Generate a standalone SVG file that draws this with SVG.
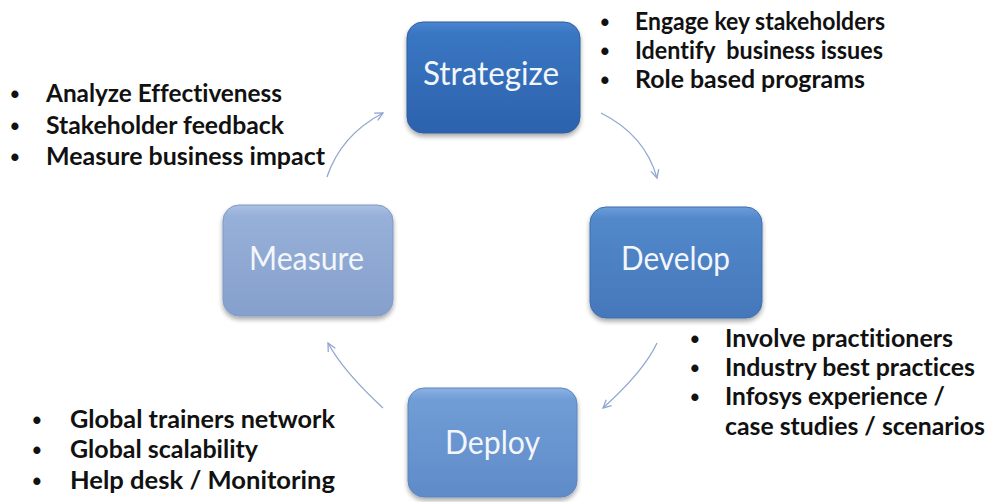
<svg xmlns="http://www.w3.org/2000/svg" width="992" height="502" viewBox="0 0 992 502">
<style>
text{font-variant-ligatures:none;}
.lbl{font-family:Lato,"Open Sans",sans-serif;font-size:32px;fill:#f3f6fb;text-anchor:middle;}
.bt{font-family:Lato,"Open Sans",sans-serif;font-weight:bold;font-size:24px;fill:#111;}
.bl{font-family:"Liberation Sans",Arial,sans-serif;font-weight:bold;font-size:25px;fill:#111;text-anchor:middle;}
.con{fill:none;stroke:#92a6d0;stroke-width:1.3;}
</style>
<defs>
<linearGradient id="gS" x1="0" y1="0" x2="0" y2="1"><stop offset="0" stop-color="#4a86cf"/><stop offset="0.1" stop-color="#3a76c2"/><stop offset="1" stop-color="#2c62ad"/></linearGradient>
<linearGradient id="gDv" x1="0" y1="0" x2="0" y2="1"><stop offset="0" stop-color="#6c9dd8"/><stop offset="0.1" stop-color="#5289cb"/><stop offset="1" stop-color="#4577bb"/></linearGradient>
<linearGradient id="gM" x1="0" y1="0" x2="0" y2="1"><stop offset="0" stop-color="#abc0e2"/><stop offset="0.1" stop-color="#97b0d9"/><stop offset="1" stop-color="#85a0cc"/></linearGradient>
<linearGradient id="gDp" x1="0" y1="0" x2="0" y2="1"><stop offset="0" stop-color="#8cb2e3"/><stop offset="0.1" stop-color="#719dd6"/><stop offset="1" stop-color="#5f8bc8"/></linearGradient>
<filter id="sh" x="-10%" y="-10%" width="120%" height="130%"><feGaussianBlur in="SourceAlpha" stdDeviation="2.5"/><feOffset dy="3"/><feComponentTransfer><feFuncA type="linear" slope="0.35"/></feComponentTransfer><feMerge><feMergeNode/><feMergeNode in="SourceGraphic"/></feMerge></filter>
<marker id="ah" markerWidth="12" markerHeight="12" refX="9" refY="5" orient="auto" markerUnits="userSpaceOnUse"><path d="M1,1 L9,5 L1,9" fill="none" stroke="#92a6d0" stroke-width="1.3"/></marker>
</defs>
<rect width="992" height="502" fill="#ffffff"/>

<g id="strategize">
<rect x="407" y="22" width="173" height="111" rx="16" fill="url(#gS)" stroke="#2f5f9e" filter="url(#sh)"/>
<text class="lbl" x="491" y="85" textLength="136" lengthAdjust="spacingAndGlyphs">Strategize</text>
</g>
<g id="develop">
<rect x="590" y="207" width="172" height="111" rx="16" fill="url(#gDv)" stroke="#3f6fae" filter="url(#sh)"/>
<text class="lbl" x="675.5" y="270" textLength="109" lengthAdjust="spacingAndGlyphs">Develop</text>
</g>
<g id="measure">
<rect x="223" y="205" width="170" height="111" rx="16" fill="url(#gM)" stroke="#7f99c6" filter="url(#sh)"/>
<text class="lbl" x="306.5" y="270" textLength="115" lengthAdjust="spacingAndGlyphs">Measure</text>
</g>
<g id="deploy">
<rect x="408" y="388" width="169" height="109" rx="16" fill="url(#gDp)" stroke="#5a85c0" filter="url(#sh)"/>
<text class="lbl" x="492.5" y="454" textLength="95" lengthAdjust="spacingAndGlyphs">Deploy</text>
</g>

<g id="connectors">
<path class="con" d="M327,177 Q341,135 383,113" marker-end="url(#ah)"/>
<path class="con" d="M601,113 Q645,135 657,178" marker-end="url(#ah)"/>
<path class="con" d="M657,343 Q644,371 603,408" marker-end="url(#ah)"/>
<path class="con" d="M383,408 Q343,371 328,343" marker-end="url(#ah)"/>
</g>

<g id="notes-measure">
<text class="bl" x="15" y="103">•</text><text class="bt" x="46" y="102" textLength="236" lengthAdjust="spacingAndGlyphs">Analyze Effectiveness</text>
<text class="bl" x="15" y="135">•</text><text class="bt" x="46" y="134" textLength="238" lengthAdjust="spacingAndGlyphs">Stakeholder feedback</text>
<text class="bl" x="15" y="166">•</text><text class="bt" x="46" y="165" textLength="279" lengthAdjust="spacingAndGlyphs">Measure business impact</text>
</g>
<g id="notes-strategize">
<text class="bl" x="605" y="31">•</text><text class="bt" x="635" y="30" textLength="250" lengthAdjust="spacingAndGlyphs">Engage key stakeholders</text>
<text class="bl" x="605" y="60">•</text><text class="bt" x="635" y="59" textLength="248" lengthAdjust="spacingAndGlyphs" xml:space="preserve">Identify  business issues</text>
<text class="bl" x="605" y="89">•</text><text class="bt" x="635" y="88" textLength="230" lengthAdjust="spacingAndGlyphs">Role based programs</text>
</g>
<g id="notes-develop">
<text class="bl" x="695" y="348">•</text><text class="bt" x="725" y="347" textLength="228" lengthAdjust="spacingAndGlyphs">Involve practitioners</text>
<text class="bl" x="695" y="377">•</text><text class="bt" x="725" y="376" textLength="250" lengthAdjust="spacingAndGlyphs">Industry best practices</text>
<text class="bl" x="695" y="406">•</text><text class="bt" x="725" y="405" textLength="220" lengthAdjust="spacingAndGlyphs">Infosys experience /</text>
<text class="bt" x="725" y="435" textLength="260" lengthAdjust="spacingAndGlyphs">case studies / scenarios</text>
</g>
<g id="notes-deploy">
<text class="bl" x="37" y="429">•</text><text class="bt" x="70" y="428" textLength="265" lengthAdjust="spacingAndGlyphs">Global trainers network</text>
<text class="bl" x="37" y="459">•</text><text class="bt" x="70" y="458" textLength="188" lengthAdjust="spacingAndGlyphs">Global scalability</text>
<text class="bl" x="37" y="490">•</text><text class="bt" x="70" y="489" textLength="265" lengthAdjust="spacingAndGlyphs">Help desk / Monitoring</text>
</g>
</svg>
